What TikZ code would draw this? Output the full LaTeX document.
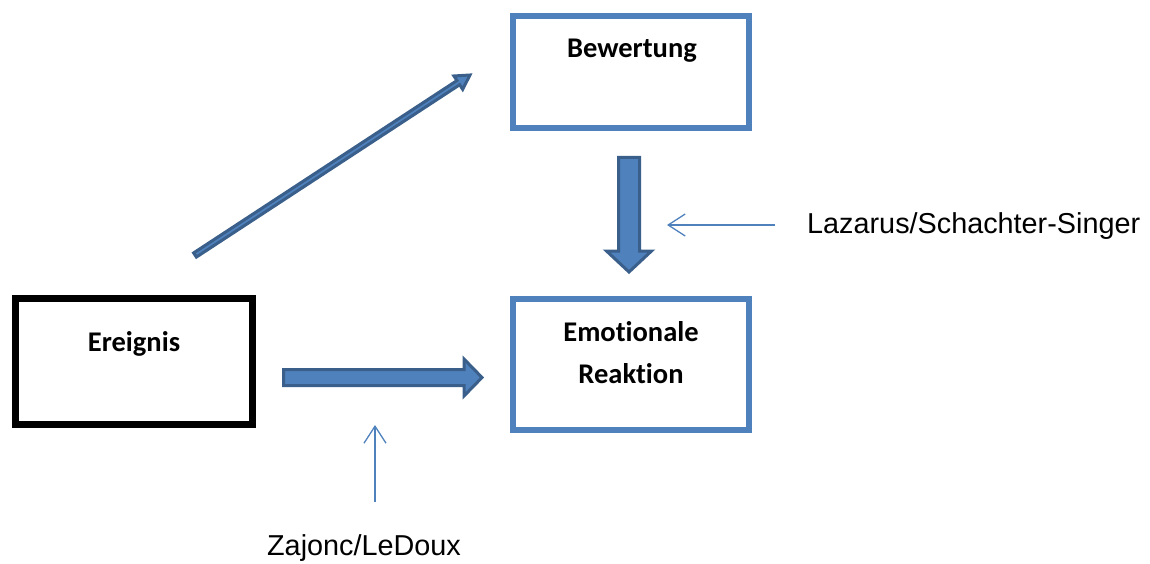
\documentclass[tikz,border=0pt]{standalone}
\usepackage{fontspec}
\setmainfont{Liberation Sans}
\newfontfamily\calfont[Ligatures=NoCommon]{Carlito}
\usetikzlibrary{calc,arrows.meta}
\definecolor{boxblue}{HTML}{4F81BD}
\definecolor{darkblue}{HTML}{3A5F8B}
\tikzset{
  every picture/.style={x=1pt,y=-1pt},
  box/.style={draw, rectangle, inner sep=0pt, outer sep=0pt},
  bluebox/.style={box, draw=boxblue, line width=6.5pt},
  blackbox/.style={box, draw=black, line width=7pt},
  boxtext/.style={font=\calfont\bfseries\fontsize{28.5}{42}\selectfont, align=center, inner sep=0pt},
  lbltext/.style={font=\fontsize{28.8}{34}\selectfont, inner sep=0pt},
  blockarr/.style={draw=darkblue, fill=boxblue, line width=3pt, line join=miter, miter limit=10},
  thinarr/.style={draw=boxblue, line width=1.3pt, -{Straight Barb[length=17pt,width=22pt,line width=1.3pt]}}
}
\newcommand\blockarrow[5]{% from, to, half shaft, half head, head length
  \coordinate (hb) at ($(#2)!#5!(#1)$);
  \draw[blockarr] ($(#1)!#3!90:(#2)$) -- ($(hb)!#3!-90:(#1)$) -- ($(hb)!#4!-90:(#1)$) -- (#2)
    -- ($(hb)!#4!90:(#1)$) -- ($(hb)!#3!90:(#1)$) -- ($(#1)!#3!-90:(#2)$) -- cycle;
}
\begin{document}
\begin{tikzpicture}
\useasboundingbox (0,0) rectangle (1150,564);
% boxes
\node[bluebox, minimum width=236pt, minimum height=112pt] (bew) at (631,72) {};
\node[bluebox, minimum width=236pt, minimum height=131pt] (emo) at (631,364.5) {};
\node[blackbox, minimum width=237pt, minimum height=126pt] (ere) at (134,361.5) {};
% box texts
\node[boxtext] (bewt) at (632,51) {Bewertung};
\node[boxtext] (emot) at (631,353) {Emotionale\\Reaktion};
\node[boxtext] (eret) at (134,344) {Ereignis};
% labels
\node[lbltext, anchor=west] (laz) at (807,226) {Lazarus/Schachter-Singer};
\node[lbltext] (zaj) at (364,548) {Zajonc/LeDoux};
% block arrows
\coordinate (d1) at (195,255);
\coordinate (d2) at (470,75);
\blockarrow{d1}{d2}{2.5pt}{8pt}{14pt}
\coordinate (h1) at (283.5,377.5);
\coordinate (h2) at (482,377.5);
\blockarrow{h1}{h2}{8pt}{18.5pt}{18pt}
\coordinate (v1) at (629,157.5);
\coordinate (v2) at (629,272);
\blockarrow{v1}{v2}{10.5pt}{22.5pt}{21pt}
% thin arrows
\coordinate (lz) at (775,225);
\coordinate (lzt) at (667,225);
\draw[thinarr] (lz) -- (lzt);
\coordinate (zj) at (375,502);
\coordinate (zjt) at (375,425);
\draw[thinarr] (zj) -- (zjt);
\end{tikzpicture}
\end{document}
